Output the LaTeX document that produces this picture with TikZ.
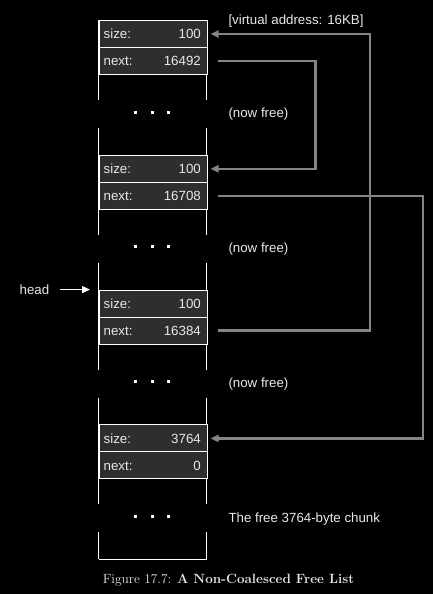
\documentclass[tikz,border=0pt]{standalone}
\usepackage{fontspec}
\setsansfont{Liberation Sans}
\usetikzlibrary{arrows.meta,calc}
\definecolor{rowfill}{HTML}{2E2E2E}
\definecolor{ptrgray}{HTML}{858585}
\definecolor{txtcol}{HTML}{E8E8E8}
\begin{document}
\begin{tikzpicture}[x=1pt,y=-1pt,
  cell/.style={draw=white,line width=1pt,fill=rowfill,minimum width=108pt,minimum height=27pt,inner sep=0pt,anchor=north west},
  txt/.style={text=txtcol,font=\sffamily\fontsize{13.3}{15}\selectfont,inner sep=0pt,text height=9.5pt,text depth=0pt},
  wall/.style={draw=white,line width=1pt},
  dotsq/.style={fill=white,minimum size=3pt,inner sep=0pt,outer sep=0pt},
  ptr/.style={draw=ptrgray,line width=2.5pt,-{Triangle[length=8pt,width=7pt]}},
  headarr/.style={draw=white,line width=1pt,-{Triangle[length=8pt,width=7pt]}}]
\fill[black] (0,0) rectangle (433,594);
\useasboundingbox (0,0) rectangle (433,594);

\foreach \i/\t/\sz/\nx/\lab in {0/20/100/16492/(now free), 1/154.8/100/16708/(now free), 2/289.6/100/16384/(now free), 3/424.4/3764/0/The free 3764-byte chunk} {
  \draw[wall] (98.5,\t) -- (98.5,\t+80) (206.5,\t) -- (206.5,\t+80);
  \draw[wall] (98.5,\t+108) -- (98.5,\t+134.8) (206.5,\t+108) -- (206.5,\t+134.8);
  \node[cell] (s\i) at (98.5,\t) {};
  \node[cell] (n\i) at (98.5,\t+27) {};
  \node[txt,anchor=west] (sl\i) at ([xshift=5pt]s\i.west) {size:};
  \node[txt,anchor=east] (sv\i) at ([xshift=-6.5pt]s\i.east) {\sz};
  \node[txt,anchor=west] (nl\i) at ([xshift=5pt]n\i.west) {next:};
  \node[txt,anchor=east] (nv\i) at ([xshift=-6.5pt]n\i.east) {\nx};
  \node[dotsq] (da\i) at (135.5,\t+92) {};
  \node[dotsq] (db\i) at (152.2,\t+92) {};
  \node[dotsq] (dc\i) at (168.9,\t+92) {};
  \node[txt,anchor=west] (lab\i) at (228.3,\t+93) {\lab};
}
\draw[wall] (98.5,559.2) -- (206.5,559.2);

\node[txt,anchor=west] (va) at (228.3,19.5) {[virtual address: 16KB]};

\node[txt,anchor=west] (head) at (19.5,289.6) {head};
\coordinate (headtip) at (90,289.6);
\draw[headarr] ([xshift=10.5pt]head.east) -- (headtip);

\draw[ptr] ([xshift=10pt]n0.east) -- ++(98,0) |- ([xshift=3pt]s1.east);
\draw[ptr] ([xshift=10pt]n2.east) -- ++(152.3,0) |- ([xshift=3pt]s0.east);
\draw[ptr] ([xshift=10pt]n1.east) -- ++(205.3,0) |- ([xshift=3pt]s3.east);

\node[anchor=west,text=txtcol,font=\fontsize{13.4}{16}\selectfont,inner sep=0pt] (cap) at (102.7,580.5) {Figure 17.7: \textbf{A Non-Coalesced Free List}};
\end{tikzpicture}
\end{document}
